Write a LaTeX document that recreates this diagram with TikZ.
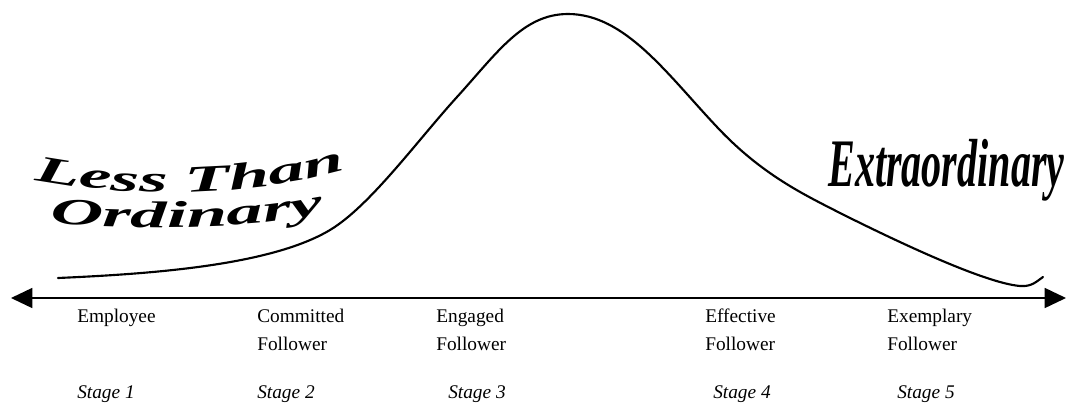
\documentclass[tikz,border=0pt]{standalone}
\usepackage{fontspec}
\setmainfont{Liberation Serif}
\newfontfamily\lessfont[FakeStretch=1.95]{Liberation Serif}
\newfontfamily\extrafont[FakeStretch=0.59]{Liberation Serif}
\usepackage{tikz}
\usetikzlibrary{arrows.meta, decorations.text}

\begin{document}
\begin{tikzpicture}[
    x=0.75pt, y=-0.75pt,
    stagename/.style={anchor=base west, inner sep=0pt, align=left, font=\fontsize{14.5}{21}\selectfont},
    stagenum/.style={stagename, font=\fontsize{14.5}{21}\selectfont\itshape},
    axis/.style={line width=1.2pt, {Triangle[length=16pt, width=15pt]}-{Triangle[length=16pt, width=15pt]}},
    bell/.style={line width=1.6pt, line join=round, line cap=round}
]
\useasboundingbox (0,0) rectangle (1067,404);

% Axis with arrow heads at both ends
\coordinate (axisLeft) at (11,298);
\coordinate (axisRight) at (1066,298);
\draw[axis] (axisLeft) -- (axisRight);

% The curve
\draw[bell] (58,278)
    .. controls (148,274) and (270,266) .. (330,230)
    .. controls (370,206) and (417,141) .. (457,97)
    .. controls (497,53) and (523,14) .. (568,14)
    .. controls (625,14) and (667,74) .. (717,127)
    .. controls (762,175) and (805,195) .. (840,213)
    .. controls (900,243) and (985,283) .. (1020,286)
    .. controls (1032,287) and (1037,281) .. (1043,277);

% Word art on the left
\path[decorate, decoration={text along path, text align=center,
    text={|\lessfont\fontsize{28}{28}\selectfont\bfseries\itshape|Less Than}}]
    (26,178) .. controls (120,198) and (250,200) .. (354,167);
\path[decorate, decoration={text along path, text align=center,
    text={|\lessfont\fontsize{28}{28}\selectfont\bfseries\itshape|Ordinary}}]
    (44,223) .. controls (150,230) and (250,230) .. (330,212);

% Word art on the right
\node[anchor=base west, inner sep=0pt, font=\extrafont\fontsize{51}{51}\selectfont\bfseries\itshape]
    (extra) at (828,186) {Extraordinary};

% Stage names (base is the last line)
\node[stagename] (employee) at (77,322) {Employee};
\node[stagename] (committed) at (257,350) {Committed\\Follower};
\node[stagename] (engaged) at (436,350) {Engaged\\Follower};
\node[stagename] (effective) at (705,350) {Effective\\Follower};
\node[stagename] (exemplary) at (887,350) {Exemplary\\Follower};

% Stage numbers
\node[stagenum] (stage1) at (77,398) {Stage 1};
\node[stagenum] (stage2) at (257,398) {Stage 2};
\node[stagenum] (stage3) at (448,398) {Stage 3};
\node[stagenum] (stage4) at (713,398) {Stage 4};
\node[stagenum] (stage5) at (897,398) {Stage 5};
\end{tikzpicture}
\end{document}
